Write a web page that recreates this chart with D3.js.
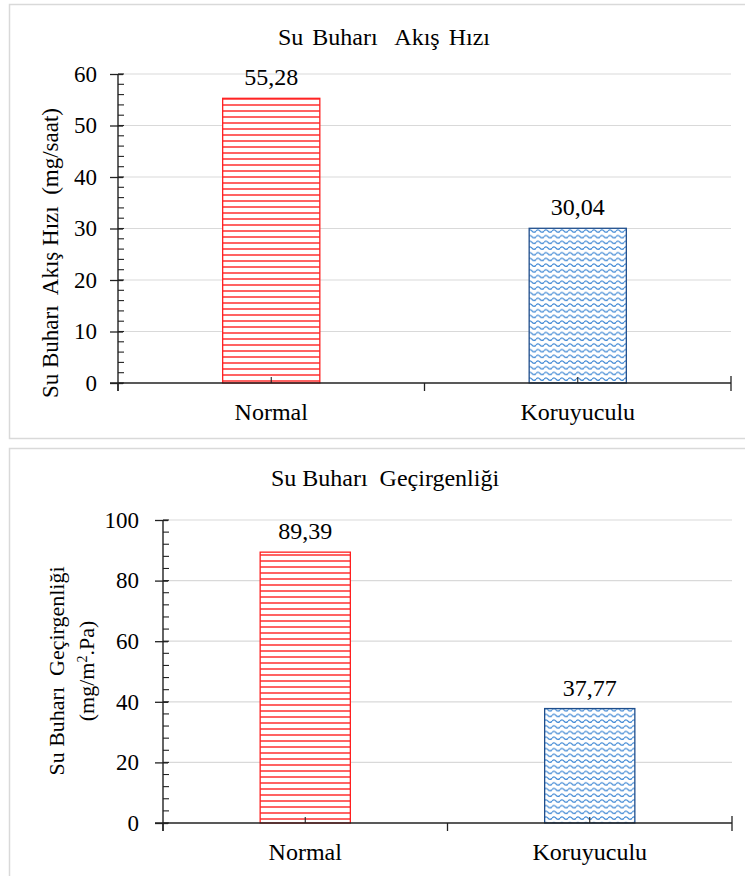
<!DOCTYPE html>
<html>
<head>
<meta charset="utf-8">
<script src="https://cdn.jsdelivr.net/npm/d3@7.9.0/dist/d3.min.js"></script>
<style>
  body { margin: 0; background: #fff; }
  svg text { font-family: 'Liberation Serif', 'DejaVu Serif', 'Times New Roman', serif !important; fill: #000; }
</style>
</head>
<body>
<svg id="chart" width="745" height="876"></svg>
<script>
// ── veriler ──────────────────────────────────────────────────────────────
const categories = ['Normal', 'Koruyuculu'];
const flowValues = [55.28, 30.04];   // mg/saat
const permValues = [89.39, 37.77];   // mg/m².Pa
const flowTicks = [0, 10, 20, 30, 40, 50, 60];
const permTicks = [0, 20, 40, 60, 80, 100];

const svg = d3.select('#chart');
const defs = svg.append('defs');

// yatay çizgili desen (kırmızı)
const stripes = defs.append('pattern')
  .attr('id', 'stripes')
  .attr('patternUnits', 'userSpaceOnUse')
  .attr('width', 8).attr('height', 6);
stripes.append('rect').attr('width', 8).attr('height', 6).attr('fill', '#fff');
stripes.append('line')
  .attr('x1', 0).attr('x2', 8).attr('y1', 3).attr('y2', 3)
  .attr('stroke', '#ff2020').attr('stroke-width', 1.4);

// dalgalı desen (mavi)
const waves = defs.append('pattern')
  .attr('id', 'waves')
  .attr('patternUnits', 'userSpaceOnUse')
  .attr('width', 8).attr('height', 5.7);
waves.append('rect').attr('width', 8).attr('height', 5.7).attr('fill', '#fff');
waves.append('path')
  .attr('d', 'M0,3 Q2,0.6 4,3 T8,3')
  .attr('fill', 'none')
  .attr('stroke', '#3f88d4').attr('stroke-width', 1.3);

function drawPanel(cfg) {
  const g = svg.append('g');

  // panel çerçevesi
  g.append('rect')
    .attr('x', cfg.box[0] + 0.5).attr('y', cfg.box[1] + 0.5)
    .attr('width', cfg.box[2]).attr('height', cfg.box[3])
    .attr('fill', '#fff').attr('stroke', '#d9d9d9').attr('stroke-width', 1.5);

  const x = d3.scaleBand().domain(categories).range([cfg.x0, cfg.x1])
    .paddingInner(0.683).paddingOuter(0.3415);
  const xc = d3.scaleBand().domain(categories).range([cfg.x0, cfg.x1]);
  const y = d3.scaleLinear().domain([0, cfg.max]).range([cfg.y0, cfg.y1]);

  // ızgara
  g.selectAll('.grid').data(cfg.ticks.filter((t) => t > 0)).join('line')
    .attr('x1', cfg.x0).attr('x2', cfg.x1)
    .attr('y1', (d) => y(d)).attr('y2', (d) => y(d))
    .attr('stroke', '#d9d9d9').attr('stroke-width', 1.2);

  // çubuklar
  g.selectAll('.bar').data(cfg.values).join('rect')
    .attr('x', (d, i) => x(categories[i]))
    .attr('y', (d) => y(d))
    .attr('width', x.bandwidth())
    .attr('height', (d) => y(0) - y(d))
    .attr('fill', (d, i) => (i === 0 ? 'url(#stripes)' : 'url(#waves)'))
    .attr('stroke', (d, i) => (i === 0 ? '#ff2020' : '#1f4e8c'))
    .attr('stroke-width', 1.3);

  // değer etiketleri
  g.selectAll('.val').data(cfg.values).join('text')
    .attr('x', (d, i) => x(categories[i]) + x.bandwidth() / 2)
    .attr('y', (d) => y(d) - 13)
    .attr('text-anchor', 'middle')
    .attr('font-size', 24)
    .text((d) => d.toFixed(2).replace('.', ','));

  // y ekseni
  const yAxis = g.append('g').attr('transform', `translate(${cfg.x0},0)`)
    .call(d3.axisLeft(y).tickValues(cfg.ticks).tickSize(8).tickPadding(cfg.tickPad));
  yAxis.select('.domain').remove();
  yAxis.selectAll('.tick line').attr('x2', -8).attr('x1', 5).attr('stroke', '#222').attr('stroke-width', 1.3);
  yAxis.selectAll('.tick text').attr('font-size', 23);
  // ara çentikler
  g.selectAll('.minor').data(d3.range(0, cfg.max + 0.001, cfg.minor)).join('line')
    .attr('x1', cfg.x0).attr('x2', cfg.x0 + 6)
    .attr('y1', (d) => y(d)).attr('y2', (d) => y(d))
    .attr('stroke', '#222').attr('stroke-width', 1.1);
  g.append('line')
    .attr('x1', cfg.x0).attr('x2', cfg.x0)
    .attr('y1', cfg.y1).attr('y2', cfg.y0 + 8)
    .attr('stroke', '#222').attr('stroke-width', 1.4);

  // x ekseni
  g.append('line')
    .attr('x1', cfg.x0 - 8).attr('x2', cfg.x1)
    .attr('y1', cfg.y0).attr('y2', cfg.y0)
    .attr('stroke', '#222').attr('stroke-width', 1.4);
  const bounds = [cfg.x0, ...categories.slice(1).map((c) => xc(c)), cfg.x1];
  g.selectAll('.xtick').data(bounds).join('line')
    .attr('x1', (d) => d).attr('x2', (d) => d)
    .attr('y1', (d, i) => (i === bounds.length - 1 ? cfg.y0 - 7 : cfg.y0))
    .attr('y2', cfg.y0 + 8)
    .attr('stroke', '#222').attr('stroke-width', 1.3);
  g.selectAll('.xminor').data(categories).join('line')
    .attr('x1', (d) => xc(d) + xc.bandwidth() / 2).attr('x2', (d) => xc(d) + xc.bandwidth() / 2)
    .attr('y1', cfg.y0).attr('y2', cfg.y0 - 6)
    .attr('stroke', '#222').attr('stroke-width', 1.1);
  g.selectAll('.xlab').data(categories).join('text')
    .attr('x', (d) => xc(d) + xc.bandwidth() / 2)
    .attr('y', cfg.y0 + 37)
    .attr('text-anchor', 'middle')
    .attr('font-size', 24)
    .text((d) => d);

  // başlık
  g.append('text')
    .attr('x', cfg.titleX).attr('y', cfg.titleY)
    .attr('text-anchor', 'middle')
    .attr('font-size', 24)
    .attr('word-spacing', cfg.titleWordGap)
    .attr('xml:space', 'preserve')
    .text(cfg.title);

  // y ekseni başlığı
  cfg.yLabel.forEach((line, i) => {
    g.append('text')
      .attr('transform', `translate(${cfg.yLabelX + i * 30},${cfg.yLabelY}) rotate(-90)`)
      .attr('text-anchor', 'middle')
      .attr('font-size', cfg.yLabelSize)
      .attr('xml:space', 'preserve')
      .html(line);
  });
}

drawPanel({
  box: [9, 4, 760, 434],
  x0: 118, x1: 731, y0: 383, y1: 74, tickPad: 13,
  max: 60, ticks: flowTicks, minor: 2, values: flowValues,
  title: 'Su Buharı  Akış Hızı', titleX: 384, titleY: 45, titleWordGap: 3,
  yLabel: ['Su Buharı  Akış Hızı  (mg/saat)'], yLabelX: 58, yLabelY: 253, yLabelSize: 23,
});

drawPanel({
  box: [9, 448, 760, 440],
  x0: 163, x1: 732, y0: 823, y1: 520, tickPad: 16,
  max: 100, ticks: permTicks, minor: 4, values: permValues,
  title: 'Su Buharı  Geçirgenliği', titleX: 385, titleY: 486, titleWordGap: 0,
  yLabel: ['Su Buharı  Geçirgenliği', '(mg/m<tspan baseline-shift="super" font-size="14">2</tspan>.Pa)'],
  yLabelX: 64, yLabelY: 671, yLabelSize: 22,
});
</script>
</body>
</html>
